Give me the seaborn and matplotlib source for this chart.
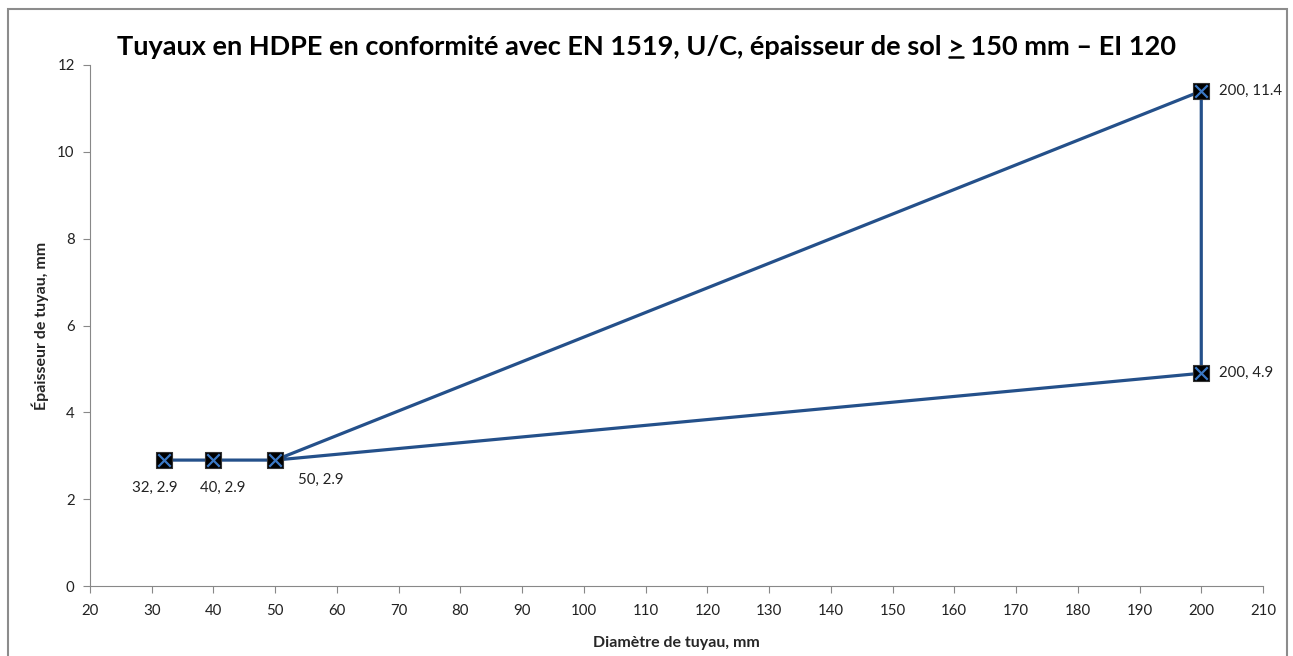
import matplotlib
matplotlib.use("Agg")
import matplotlib.pyplot as plt
import seaborn as sns
import pandas as pd

diametre = [32, 40, 50, 200, 200, 50]
epaisseur = [2.9, 2.9, 2.9, 4.9, 11.4, 2.9]
point_labels = ["32, 2.9", "40, 2.9", "50, 2.9", "200, 4.9", "200, 11.4"]
x_ticks = list(range(20, 211, 10))
y_ticks = [0, 2, 4, 6, 8, 10, 12]

sns.set_theme(style="white")
plt.rcParams['font.family'] = ['Lato', 'DejaVu Sans']

df = pd.DataFrame({"d": diametre, "e": epaisseur, "order": range(len(diametre))})

fig = plt.figure(figsize=(12.93, 6.56), dpi=100)
ax = fig.add_axes([90/1293, 1-586/656, (1263-90)/1293, (586-65)/656])

line_color = "#24508a"
sns.lineplot(data=df, x="d", y="e", sort=False, estimator=None, ax=ax,
             color=line_color, linewidth=2.3, zorder=2)
pts = df.iloc[:5]
sns.scatterplot(data=pts, x="d", y="e", marker="s", s=125, color="black",
                edgecolor="#333333", linewidth=0.8, ax=ax, zorder=3)
sns.scatterplot(data=pts, x="d", y="e", marker="x", s=80, color="#3b78c4",
                linewidth=1.6, ax=ax, zorder=4)

offsets = [(-7, -20, "center"), (6.5, -20, "center"), (33, -14, "center"),
           (13, 0, "left"), (13, 0, "left")]
for (xv, yv, lab, off) in zip(pts["d"], pts["e"], point_labels, offsets):
    ax.annotate(lab, (xv, yv), xytext=off[:2], textcoords="offset points",
                ha=off[2], va="center", fontsize=10.8, color="#222222")

ax.set_xlim(20, 210)
ax.set_ylim(0, 12)
ax.set_xticks(x_ticks)
ax.set_yticks(y_ticks)
ax.tick_params(axis="both", which="major", direction="out", length=5, width=0.8,
               color="#888888", labelsize=10.8, labelcolor="#222222", pad=4)
ax.tick_params(axis="x", pad=8)
ax.tick_params(axis="y", pad=6)
ax.tick_params(bottom=True, left=True)
for s in ["top", "right"]:
    ax.spines[s].set_visible(False)
for s in ["left", "bottom"]:
    ax.spines[s].set_color("#888888")
    ax.spines[s].set_linewidth(0.8)

ax.set_xlabel("Diamètre de tuyau, mm", fontsize=11.5, fontweight="bold", labelpad=13)
ax.set_ylabel("Épaisseur de tuyau, mm", fontsize=11.5, fontweight="bold", labelpad=6)

title_pre = "Tuyaux en HDPE en conformité avec EN 1519, U/C, épaisseur de sol "
title_sym = ">"
title_post = " 150 mm \u2013 EI 120"
title_y = 1 - 47/656
t = fig.text(0.5, title_y, title_pre + title_sym + title_post,
             ha="center", va="center", fontsize=19.5, fontweight="bold", color="black")

# underline the ">" sign
fig.canvas.draw()
renderer = fig.canvas.get_renderer()
full_bb = t.get_window_extent(renderer)
tmp = fig.text(0, 0, title_pre, fontsize=19.5, fontweight="bold")
pre_w = tmp.get_window_extent(renderer).width
tmp.remove()
tmp = fig.text(0, 0, title_pre + title_sym, fontsize=19.5, fontweight="bold")
sym_end = tmp.get_window_extent(renderer).width
tmp.remove()
x0 = (full_bb.x0 + pre_w + 1) / fig.bbox.width
x1 = (full_bb.x0 + sym_end - 1) / fig.bbox.width
yu = (full_bb.y0 + 2) / fig.bbox.height
fig.add_artist(plt.Line2D([x0, x1], [yu, yu], transform=fig.transFigure,
                          color="black", linewidth=1.8))

# outer chart frame
frame = plt.Rectangle((8/1293, -0.05), (1287-8)/1293, 1-9/656+0.05, transform=fig.transFigure,
                      fill=False, edgecolor="#8c8c8c", linewidth=1.5)
fig.patches.append(frame)

fig.savefig("out.png", dpi=100)
